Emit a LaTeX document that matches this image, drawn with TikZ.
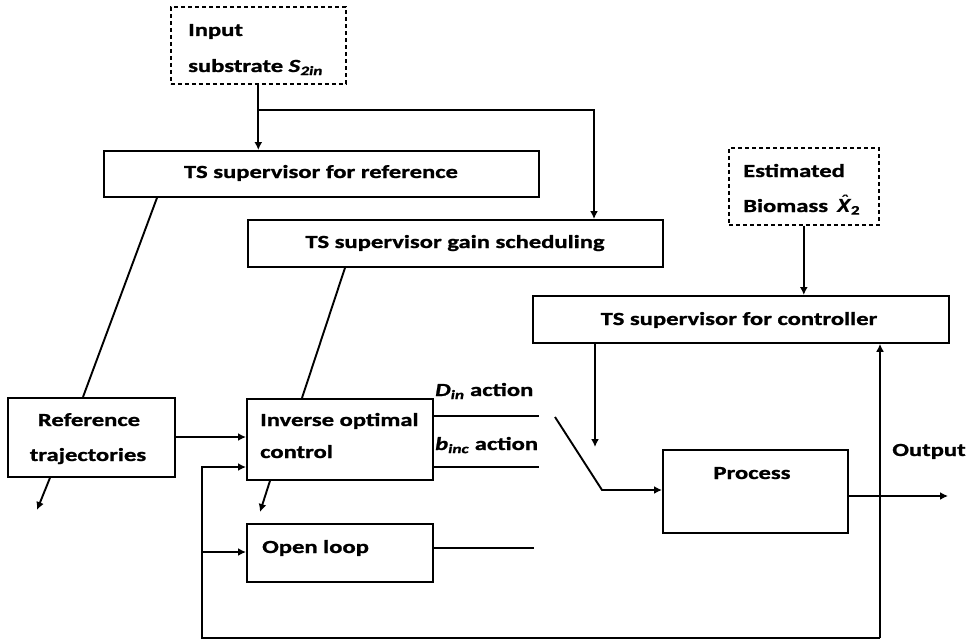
\documentclass[tikz,border=0pt]{standalone}
\usepackage{fontspec}
\setmainfont{Carlito}[FakeStretch=1.33, BoldFeatures={FakeBold=1.2}, BoldItalicFeatures={FakeBold=1.2}]
\newfontfamily\hatfont{DejaVu Sans}
\usetikzlibrary{arrows.meta,calc}
\begin{document}
\begin{tikzpicture}[x=1pt,y=-1pt,
  box/.style={draw, line width=1.8pt, rectangle, inner sep=0pt, anchor=north west},
  dbox/.style={box, line width=1.6pt, dash pattern=on 4pt off 3pt},
  lbl/.style={font=\fontsize{18.5}{35}\selectfont\bfseries, inner sep=0pt},
  wire/.style={line width=1.9pt},
  arr/.style={wire, -{Latex[length=8pt,width=8pt]}}]
\useasboundingbox (0,0) rectangle (975,642);

% blocks
\node[dbox, minimum width=175, minimum height=77] (input) at (170,6) {};
\node[dbox, minimum width=150, minimum height=77] (bio) at (728,147) {};
\node[box, minimum width=435, minimum height=46] (tsref) at (103,150) {};
\node[box, minimum width=415, minimum height=47] (tsgain) at (247,219) {};
\node[box, minimum width=416, minimum height=47] (tsctrl) at (532,295) {};
\node[box, minimum width=167, minimum height=79] (reftraj) at (7,397) {};
\node[box, minimum width=186, minimum height=81] (inv) at (246,398) {};
\node[box, minimum width=186, minimum height=58] (open) at (246,523) {};
\node[box, minimum width=185, minimum height=83] (proc) at (662,449) {};

% block texts
\node[lbl, anchor=base west] (inputA) at (188,36) {Input};
\node[lbl, anchor=base west] (inputB) at (188,72) {substrate \textit{S}\textsubscript{\textit{2in}}};
\node[lbl, anchor=base west] (bioA) at (743,177) {Estimated};
\node[lbl, anchor=base west] (bioB) at (743,212) {Biomass\hspace{9pt}{\hatfont\fontsize{18}{35}\selectfont\bfseries\itshape X\char"0302}\textsubscript{2}};
\node[lbl, anchor=base] (tsrefT) at (321,178) {TS supervisor for reference};
\node[lbl, anchor=base] (tsgainT) at (455,248) {TS supervisor gain scheduling};
\node[lbl, anchor=base] (tsctrlT) at (739,325) {TS supervisor for controller};
\node[lbl, anchor=base] (reftrajA) at (89,426) {Reference};
\node[lbl, anchor=base] (reftrajB) at (88,461) {trajectories};
\node[lbl, anchor=base west] (invA) at (260,426) {Inverse optimal};
\node[lbl, anchor=base west] (invB) at (260,458) {control};
\node[lbl, anchor=base west] (openT) at (262,553) {Open loop};
\node[lbl, anchor=base] (procT) at (752,479) {Process};
\node[lbl, anchor=base] (outT) at (929,456) {Output};
\node[lbl, anchor=base west] (dinT) at (435,396) {\textit{D}\textsubscript{\textit{in}} action};
\node[lbl, anchor=base west] (bincT) at (435,450) {\textit{b}\textsubscript{\textit{inc}} action};

% free ends and junctions
\coordinate (split) at (258,110);
\coordinate (gainin) at (594,110);
\coordinate (dinend) at (539,416);
\coordinate (bincend) at (539,467);
\coordinate (openend) at (534,548);
\coordinate (sw0) at (555,417);
\coordinate (sw1) at (602,490);
\coordinate (out) at (948,496);
\coordinate (fbx) at (880,638);
\coordinate (fbl) at (202,638);
\coordinate (refout) at (37,510);
\coordinate (invout) at (260,512);

% supervisor inputs
\draw[arr] (input.south) -- (input.south |- tsref.north);
\draw[arr] (split) -- (gainin) -- (gainin |- tsgain.north);
\draw[arr] (bio.south) -- (bio.south |- tsctrl.north);

% supervisor outputs
\draw[wire] ([xshift=54pt]tsref.south west) -- ([xshift=76pt]reftraj.north west);
\draw[wire] ([xshift=98pt]tsgain.south west) -- ([xshift=56pt]inv.north west);
\draw[arr] ([xshift=63pt]tsctrl.south west) -- ([xshift=63pt]tsctrl.south west |- 0,447);

% controller side
\draw[arr] (reftraj.east |- 0,437) -- (inv.west |- 0,437);
\draw[arr] ([xshift=43pt]reftraj.south west) -- (refout);
\draw[arr] ([xshift=24pt]inv.south west) -- (invout);
\draw[wire] (inv.east |- dinend) -- (dinend);
\draw[wire] (inv.east |- bincend) -- (bincend);
\draw[wire] (open.east |- openend) -- (openend);

% switch into the process
\draw[arr] (sw0) -- (sw1) -- (sw1 -| proc.west);

% output and feedback loop
\draw[arr] (proc.east |- out) -- (out);
\draw[arr] (fbx) -- (fbx |- tsctrl.south);
\draw[arr] (fbx) -- (fbl) -- (fbl |- 0,467) -- (inv.west |- 0,467);
\draw[arr] (fbl |- 0,552) -- (open.west |- 0,552);
\end{tikzpicture}
\end{document}
